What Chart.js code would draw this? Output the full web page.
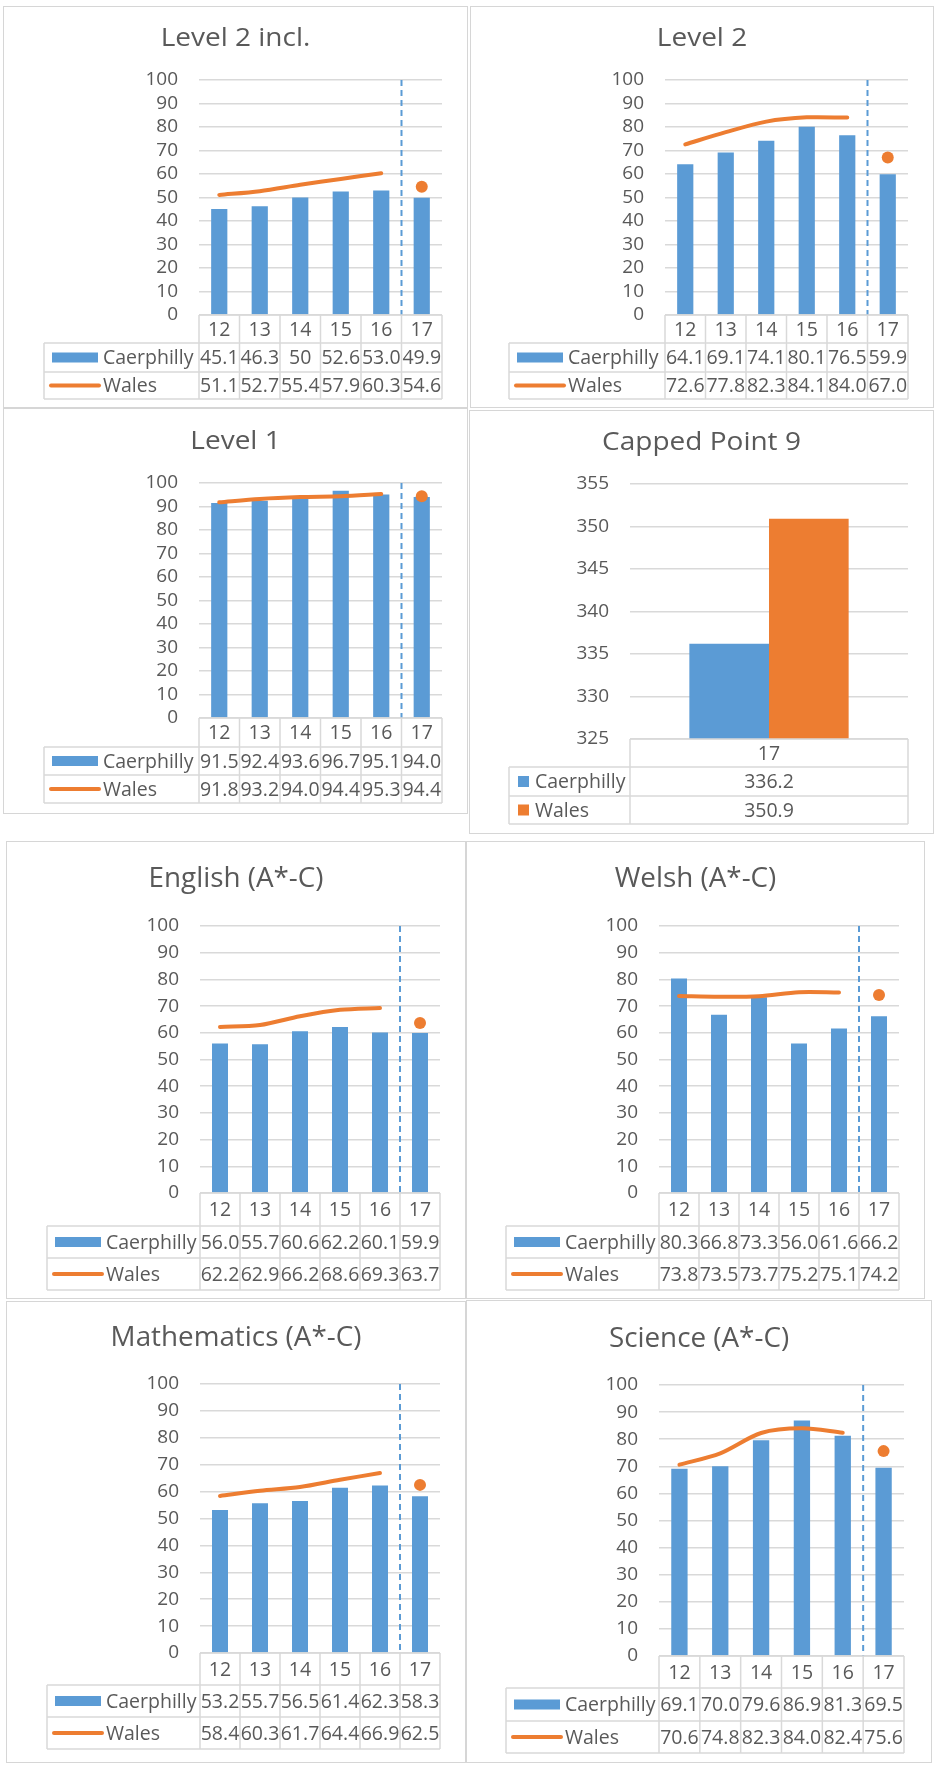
<!DOCTYPE html>
<html><head><meta charset="utf-8">
<script src="https://cdn.jsdelivr.net/npm/chart.js@4.4.1/dist/chart.umd.min.js"></script>
<style>
html,body{margin:0;padding:0;background:#fff;width:937px;height:1769px;overflow:hidden}
.box{position:absolute;box-sizing:border-box;border:1.5px solid #d6d6d6}
canvas{position:absolute}
</style></head><body>
<script>
// ---------- data ----------
const years = ['12', '13', '14', '15', '16', '17'];
const cappedYears = ['17'];

const level2InclCaerphilly = ['45.1', '46.3', '50', '52.6', '53.0', '49.9'];
const level2InclWales      = ['51.1', '52.7', '55.4', '57.9', '60.3', '54.6'];
const level2Caerphilly     = ['64.1', '69.1', '74.1', '80.1', '76.5', '59.9'];
const level2Wales          = ['72.6', '77.8', '82.3', '84.1', '84.0', '67.0'];
const level1Caerphilly     = ['91.5', '92.4', '93.6', '96.7', '95.1', '94.0'];
const level1Wales          = ['91.8', '93.2', '94.0', '94.4', '95.3', '94.4'];
const cappedCaerphilly     = ['336.2'];
const cappedWales          = ['350.9'];
const englishCaerphilly    = ['56.0', '55.7', '60.6', '62.2', '60.1', '59.9'];
const englishWales         = ['62.2', '62.9', '66.2', '68.6', '69.3', '63.7'];
const welshCaerphilly      = ['80.3', '66.8', '73.3', '56.0', '61.6', '66.2'];
const welshWales           = ['73.8', '73.5', '73.7', '75.2', '75.1', '74.2'];
const mathsCaerphilly      = ['53.2', '55.7', '56.5', '61.4', '62.3', '58.3'];
const mathsWales           = ['58.4', '60.3', '61.7', '64.4', '66.9', '62.5'];
const scienceCaerphilly    = ['69.1', '70.0', '79.6', '86.9', '81.3', '69.5'];
const scienceWales         = ['70.6', '74.8', '82.3', '84.0', '82.4', '75.6'];

const seriesNames = ['Caerphilly', 'Wales'];
const percentTicks = {min: 0, max: 100, step: 10};
const cappedTicks = {min: 325, max: 355, step: 5};

// ---------- style ----------
const BLUE = '#5B9BD5', ORANGE = '#ED7D31', TEXT = '#595959', GRID = '#d9d9d9';
const FONT = '"Open Sans", "DejaVu Sans", sans-serif';

// ---------- layout (geometry only) ----------
const panels = [
  {title: 'Level 2 incl.', caer: level2InclCaerphilly, wales: level2InclWales,
   x: 3, y: 6, w: 465, h: 402, L: 196, R: 439, T: 74, B: 309, rows: [337, 366, 393], legendLeft: 41, titleY: 33, titleSize: 25, sx: 1.12},
  {title: 'Level 2', caer: level2Caerphilly, wales: level2Wales,
   x: 470, y: 6, w: 464, h: 402, L: 195, R: 438, T: 74, B: 309, rows: [337, 366, 393], legendLeft: 39, titleY: 33, titleSize: 25, sx: 1.12},
  {title: 'Level 1', caer: level1Caerphilly, wales: level1Wales,
   x: 3, y: 408, w: 465, h: 406, L: 196, R: 439, T: 75, B: 310, rows: [339, 367, 395], legendLeft: 41, titleY: 34, titleSize: 25, sx: 1.12},
  {title: 'Capped Point 9', caer: cappedCaerphilly, wales: cappedWales, capped: true,
   x: 469, y: 410, w: 465, h: 424, L: 161, R: 439, T: 74, B: 329, rows: [357, 386, 414], legendLeft: 40, titleY: 33, titleSize: 25, sx: 1.12},
  {title: 'English (A*-C)', caer: englishCaerphilly, wales: englishWales,
   x: 6, y: 841, w: 460, h: 458, L: 194, R: 434, T: 85, B: 352, rows: [385, 417, 449], legendLeft: 41, titleY: 38, titleSize: 27, sx: 1.03},
  {title: 'Welsh (A*-C)', caer: welshCaerphilly, wales: welshWales,
   x: 466, y: 841, w: 459, h: 458, L: 193, R: 433, T: 85, B: 352, rows: [385, 417, 449], legendLeft: 40, titleY: 38, titleSize: 27, sx: 1.03},
  {title: 'Mathematics (A*-C)', caer: mathsCaerphilly, wales: mathsWales,
   x: 6, y: 1301, w: 460, h: 462, L: 194, R: 434, T: 83, B: 352, rows: [384, 416, 448], legendLeft: 41, titleY: 37, titleSize: 27, sx: 1.03},
  {title: 'Science (A*-C)', caer: scienceCaerphilly, wales: scienceWales,
   x: 466, y: 1300, w: 466, h: 463, L: 193, R: 438, T: 85, B: 356, rows: [388, 421, 453], legendLeft: 40, titleY: 39, titleSize: 27, sx: 1.03}
];

// ---------- plugin: title, split line, data table ----------
const decor = {
  id: 'decor',
  beforeDatasetsDraw(chart, args, o) {
    if (o.capped) return;
    const {ctx, chartArea: ca} = chart;
    const xs = chart.scales.x;
    const n = chart.data.labels.length;
    const xSplit = (xs.getPixelForValue(n - 2) + xs.getPixelForValue(n - 1)) / 2;
    ctx.save();
    ctx.strokeStyle = BLUE; ctx.lineWidth = 2; ctx.setLineDash([6, 4]);
    ctx.beginPath(); ctx.moveTo(xSplit, ca.top); ctx.lineTo(xSplit, ca.bottom); ctx.stroke();
    ctx.restore();
  },
  afterDraw(chart, args, o) {
    const {ctx, chartArea: ca} = chart;
    const xs = chart.scales.x;
    const labels = chart.data.labels;
    const n = labels.length;
    const cw = (ca.right - ca.left) / n;
    const edge = i => xs.getPixelForValue(0) - cw / 2 + i * cw;
    const [r1, r2, r3] = o.rows, r0 = ca.bottom;
    ctx.save();
    // title
    ctx.save();
    ctx.fillStyle = TEXT; ctx.font = `${o.titleSize}px ${FONT}`;
    ctx.textAlign = 'center'; ctx.textBaseline = 'middle';
    ctx.translate(chart.width / 2, o.titleY); ctx.scale(o.sx, 1);
    ctx.fillText(o.title, 0, 0);
    ctx.restore();
    // table grid
    ctx.strokeStyle = GRID; ctx.lineWidth = 1.5;
    const seg = (a, b, c, d) => { ctx.beginPath(); ctx.moveTo(a, b); ctx.lineTo(c, d); ctx.stroke(); };
    seg(edge(0), r0, edge(n), r0);
    [r1, r2, r3].forEach(r => seg(o.legendLeft, r, edge(n), r));
    for (let i = 0; i <= n; i++) seg(edge(i), r0, edge(i), r3);
    seg(o.legendLeft, r1, o.legendLeft, r3);
    // texts
    ctx.fillStyle = TEXT; ctx.font = `19.5px ${FONT}`;
    ctx.textAlign = 'center'; ctx.textBaseline = 'middle';
    labels.forEach((lab, i) => ctx.fillText(lab, xs.getPixelForValue(i), (r0 + r1) / 2 + 1));
    const rowsY = [(r1 + r2) / 2 + 1, (r2 + r3) / 2 + 1];
    o.series.forEach((s, k) => {
      ctx.textAlign = 'center';
      s.values.forEach((v, i) => ctx.fillText(v, xs.getPixelForValue(i), rowsY[k]));
      const ly = rowsY[k] - 1;
      if (o.capped) {
        ctx.fillStyle = s.color; ctx.fillRect(o.legendLeft + 9, ly - 5.5, 11, 11);
        ctx.fillStyle = TEXT; ctx.textAlign = 'left';
        ctx.fillText(s.name, o.legendLeft + 26, rowsY[k]);
      } else {
        if (s.kind === 'bar') {
          ctx.fillStyle = s.color; ctx.fillRect(o.legendLeft + 8, ly - 5, 46, 10);
        } else {
          ctx.strokeStyle = s.color; ctx.lineWidth = 4; ctx.lineCap = 'round';
          seg(o.legendLeft + 7, ly, o.legendLeft + 55, ly);
        }
        ctx.fillStyle = TEXT; ctx.textAlign = 'left';
        ctx.fillText(s.name, o.legendLeft + 59, rowsY[k]);
      }
    });
    ctx.restore();
  }
};

panels.forEach(p => {
  const box = document.createElement('div');
  box.className = 'box';
  Object.assign(box.style, {left: p.x + 'px', top: p.y + 'px', width: p.w + 'px', height: p.h + 'px'});
  const cv = document.createElement('canvas');
  cv.width = p.w; cv.height = p.h;
  Object.assign(cv.style, {left: p.x + 'px', top: p.y + 'px', width: p.w + 'px', height: p.h + 'px'});
  document.body.append(box, cv);

  const caerNums = p.caer.map(Number);
  const walesNums = p.wales.map(Number);
  const last = walesNums.length - 1;
  let datasets, labels, tk;
  if (p.capped) {
    labels = cappedYears; tk = cappedTicks;
    datasets = [
      {type: 'bar', label: seriesNames[0], data: caerNums, backgroundColor: BLUE, barPercentage: 1, categoryPercentage: 0.573},
      {type: 'bar', label: seriesNames[1], data: walesNums, backgroundColor: ORANGE, barPercentage: 1, categoryPercentage: 0.573}
    ];
  } else {
    labels = years; tk = percentTicks;
    datasets = [
      {type: 'line', label: seriesNames[1], data: walesNums.map((v, i) => i < last ? v : null),
       borderColor: ORANGE, borderWidth: 4, pointRadius: 0, tension: 0.3, borderCapStyle: 'round', order: 1},
      {type: 'line', label: seriesNames[1] + ' 17', data: walesNums.map((v, i) => i === last ? v : null),
       showLine: false, pointRadius: 6, pointBackgroundColor: ORANGE, pointBorderWidth: 0, order: 0},
      {type: 'bar', label: seriesNames[0], data: caerNums, backgroundColor: BLUE, barPercentage: 0.4, categoryPercentage: 1, order: 2}
    ];
  }
  new Chart(cv, {
    type: 'bar',
    data: {labels, datasets},
    options: {
      responsive: false, animation: false, devicePixelRatio: 1,
      layout: {padding: {left: 0, right: p.w - p.R, top: p.T, bottom: p.h - p.B}},
      plugins: {
        legend: {display: false}, title: {display: false}, tooltip: {enabled: false},
        decor: {
          title: p.title, titleY: p.titleY, titleSize: p.titleSize, sx: p.sx, capped: !!p.capped,
          rows: p.rows, legendLeft: p.legendLeft,
          series: [
            {name: seriesNames[0], values: p.caer, color: BLUE, kind: 'bar'},
            {name: seriesNames[1], values: p.wales, color: ORANGE, kind: 'line'}
          ]
        }
      },
      scales: {
        x: {display: false, offset: true},
        y: {
          min: tk.min, max: tk.max,
          ticks: {stepSize: tk.step, autoSkip: false, padding: 21, color: TEXT, font: {family: FONT, size: 19}},
          grid: {color: GRID, lineWidth: 1.5, drawTicks: false},
          border: {display: false},
          afterFit: s => { s.width = p.L; }
        }
      }
    },
    plugins: [decor]
  });
});
</script>
</body></html>
